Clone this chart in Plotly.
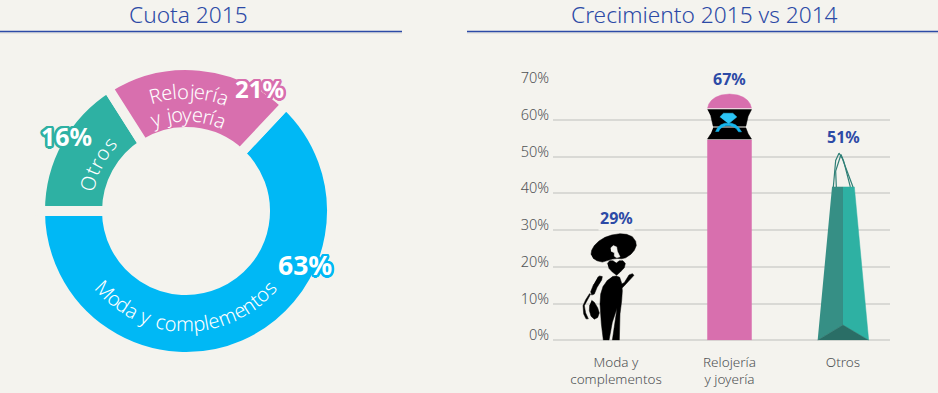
import math
import plotly.graph_objects as go

categories = ["Moda y complementos", "Otros", "Relojería y joyería"]
share_2015 = [63, 16, 21]
bar_categories = ["Moda y<br>complementos", "Relojería<br>y joyería", "Otros"]
growth_2015 = [29, 67, 51]
y_ticks = [0, 10, 20, 30, 40, 50, 60, 70]

W, H = 938, 393
BG = "#f4f3ee"
BLUE = "#2c4aa6"
SKY = "#00b8f5"
PINK = "#d86fae"
TEAL = "#2eb1a3"
FONT = "Noto Sans"
GREY = "#4f5254"

def px(x): return x / W
def py(y): return 1 - y / H

fig = go.Figure()

# ---------- donut ----------
CX, CY, R_VIS, R_IN, GAP = 186, 211, 141, 84, 10
R = R_VIS + GAP / 2
fig.add_trace(go.Pie(
    labels=categories, values=share_2015, sort=False, direction="clockwise",
    rotation=43.2, hole=(R_IN - GAP / 2) / R, textinfo="none", showlegend=False,
    marker=dict(colors=[SKY, TEAL, PINK], line=dict(color=BG, width=GAP)),
    domain=dict(x=[px(CX - R), px(CX + R)], y=[py(CY + R), py(CY - R)]),
))

# ---------- growth chart ----------
X0, STEP = 616, 113.5
AX_L, AX_R, Y0, Y70 = 553, 890, 340.3, 83
xr = [(AX_L - X0) / STEP, (AX_R - X0) / STEP]

fig.add_trace(go.Bar(
    x=[0, 1, 2], y=growth_2015, width=0.39,
    marker=dict(color="rgba(0,0,0,0)", line=dict(width=0)),
    showlegend=False, hovertext=bar_categories, hoverinfo="text+y",
))

def icon(index, value, polys, color, ox, oy, height, line=None):
    """Outline drawn in a local icon frame, scaled to the value on the axes."""
    xs, ys = [], []
    for poly in polys:
        for (a, b) in poly:
            xs.append(index + (a - ox) / 3 / STEP)
            ys.append(value * (oy - b) / height)
        xs.append(None); ys.append(None)
    if line:
        fig.add_trace(go.Scatter(x=xs, y=ys, mode="lines", hoverinfo="skip", showlegend=False,
                                 line=dict(color=color, width=line)))
    else:
        fig.add_trace(go.Scatter(x=xs, y=ys, mode="lines", fill="toself", fillcolor=color,
                                 hoverinfo="skip", showlegend=False, line=dict(color=color, width=0.5)))

# woman (frame: origin x=123, base y=345, height 323)
W_ARGS = dict(index=0, value=growth_2015[0], ox=123, oy=345, height=323)
icon(polys=[
    [(48,85),(50,72),(58,58),(72,44),(90,33),(110,26),(135,22),(155,24),(172,31),(182,45),(184,58),(178,72),(168,84),(152,95),(140,98),(128,97),(112,99),(98,104),(82,108),(66,104),(54,96)],
    [(97,112),(104,104),(114,104),(124,111),(133,104),(144,104),(151,112),(148,125),(136,138),(125,148),(112,138),(101,126)],
    [(112,152),(124,150),(134,154),(140,172),(142,195),(140,225),(135,265),(133,345),(112,345),(118,305),(126,248),(112,290),(102,345),(85,345),(79,295),(75,235),(77,205),(84,182),(98,162)],
    [(134,178),(148,170),(162,147),(172,143),(177,148),(172,154),(158,170),(146,182),(139,188)],
    [(68,154),(74,150),(82,152),(80,162),(66,185),(58,205),(50,208),(47,198),(56,175)],
    [(50,224),(58,230),(68,246),(73,262),(68,276),(58,281),(48,272),(43,255),(44,238)],
    [(47,205),(35,225),(28,240),(32,262),(40,280),(33,280),(26,265),(24,240),(32,222),(44,203)],
], color="#000000", **W_ARGS)
icon(polys=[[(107,65),(115,58),(125,62),(127,75),(135,92),(125,95),(118,90),(118,80),(108,75)]], color=BG, **W_ARGS)

# jewellery box (frame: origin x=120, base y=841, height 743)
R_ARGS = dict(index=1, value=growth_2015[1], ox=120, oy=841, height=743)
dome = [(54,141),(58,128),(66,117),(78,108),(95,101),(120,98),(145,101),(162,108),(174,117),(182,128),(186,141)]
icon(polys=[dome, [(54,841),(54,237),(186,237),(186,841)]], color=PINK, **R_ARGS)
icon(polys=[[(54,145),(186,145),(176,165),(169,195),(71,195),(64,165)],
            [(71,200),(169,200),(176,218),(186,234),(54,234),(64,218)]], color="#000000", **R_ARGS)
icon(polys=[[(78,212),(84,200),(94,191),(106,186),(126,186),(138,191),(148,200),(156,212),(147,212),(141,203),(132,197),(122,194),(108,194),(98,198),(91,204),(87,212)]],
     color="#14b6ee", **R_ARGS)
icon(polys=[[(91,167),(102,156),(130,156),(142,167),(117,188)]], color="#2cc4f5", **R_ARGS)

# shopping bag (frame: origin x=458, base y=841, height 566)
B_ARGS = dict(index=2, value=growth_2015[2], ox=458, oy=841, height=566)
icon(polys=[[(425,378),(458,378),(458,795),(382,841)]], color="#368f85", **B_ARGS)
icon(polys=[[(458,378),(492,378),(535,841),(458,795)]], color=TEAL, **B_ARGS)
icon(polys=[[(382,841),(458,795),(535,841)]], color="#2a6e66", **B_ARGS)
icon(polys=[[(429,378),(436,298),(446,276),(456,292),(488,378)],
            [(438,378),(436,330),(452,280),(460,300),(480,378)]],
     color="#2f7f76", line=1.2, **B_ARGS)

# ---------- text ----------
ann = []
def text(x, y, s, size, color, angle=0, weight=None, shadow=None, xanchor="center"):
    f = dict(family=FONT, size=size, color=color)
    if weight: f["weight"] = weight
    if shadow: f["shadow"] = shadow
    ann.append(dict(x=px(x), y=py(y), xref="paper", yref="paper", text=s, showarrow=False,
                    xanchor=xanchor, yanchor="middle", textangle=angle, font=f, borderpad=0))

def halo(c, r=2.5):
    parts = []
    for k in range(16):
        a = k * math.pi / 8
        parts.append(f"{r*math.cos(a):.1f}px {r*math.sin(a):.1f}px 0 {c}")
    return ", ".join(parts)

NARROW = {"i": .27, "l": .27, "í": .29, "j": .28, "r": .40, "t": .36, " ": .27, "f": .33}
WIDE = {"m": .92, "M": .88, "R": .62, "O": .76}
def glyph_w(c): return NARROW.get(c, WIDE.get(c, .56))

def arc(s, radius, a0, a1, size, bottom=False):
    ws = [glyph_w(c) for c in s]
    tot = sum(ws)
    pos = 0.0
    for c, w in zip(s, ws):
        t = (pos + w / 2) / tot
        pos += w
        if c == " ":
            continue
        a = a0 + (a1 - a0) * t
        rad = math.radians(a)
        if bottom:
            x, y, rot = CX + radius * math.sin(rad), CY + radius * math.cos(rad), -a
        else:
            x, y, rot = CX + radius * math.sin(rad), CY - radius * math.cos(rad), a
        text(x, y, c, size, "#ffffff", angle=rot, weight=300)

arc("Moda y complementos", 113, -50, 50, 20, bottom=True)
arc("Relojería", 120, -18, 21, 20)
arc("y joyería", 97, -21, 24, 20)
arc("Otros", 102, -79, -45, 20)

text(304.5, 265, f"{share_2015[0]}%", 26.5, "#ffffff", weight=700, shadow=halo(SKY))
text(259, 89, f"{share_2015[2]}%", 24, "#ffffff", weight=700, shadow=halo(PINK))
text(66, 136, f"{share_2015[1]}%", 25, "#ffffff", weight=700, shadow=halo(TEAL))

text(188.5, 15, "Cuota 2015", 22.7, BLUE, weight=300)
text(704, 15, "Crecimiento 2015 vs 2014", 22.7, BLUE, weight=300)

for i, v in enumerate(growth_2015):
    ann.append(dict(x=i, y=v, xref="x", yref="y", yshift=15.5, text=f"{v}%", showarrow=False,
                    xanchor="center", yanchor="middle", bgcolor=BG, borderpad=1,
                    font=dict(family=FONT, size=16, color=BLUE, weight=700)))

rule = dict(type="line", xref="paper", yref="paper", y0=py(31.5), y1=py(31.5), line=dict(color=BLUE, width=1.3))
rule_sh = dict(type="line", xref="paper", yref="paper", y0=py(33), y1=py(33), line=dict(color="#d8d8d6", width=1))
shapes = []
for a, b in [(0, 402), (467, 938)]:
    shapes.append(dict(rule_sh, x0=px(a), x1=px(b)))
    shapes.append(dict(rule, x0=px(a), x1=px(b)))

fig.update_layout(
    width=W, height=H, margin=dict(l=0, r=0, t=0, b=0, pad=0, autoexpand=False), autosize=False,
    paper_bgcolor=BG, plot_bgcolor=BG, showlegend=False, bargap=0.6,
    annotations=ann, shapes=shapes,
    xaxis=dict(domain=[px(AX_L), px(AX_R)], range=xr, tickmode="array", tickvals=[0, 1, 2], automargin=False,
               ticktext=bar_categories, showgrid=False, zeroline=False, showline=False,
               ticks="", tickfont=dict(family=FONT, size=13.5, color=GREY, weight=300), ticklabelstandoff=12),
    yaxis=dict(domain=[py(Y0), py(Y70)], range=[0, 70], tickmode="array", tickvals=y_ticks, automargin=False,
               ticktext=[f"{t}%" for t in y_ticks], showgrid=True, gridcolor="#d9d9d5", gridwidth=1.5,
               zeroline=True, zerolinecolor="#d9d9d5", zerolinewidth=1.5, showline=False,
               ticks="", tickfont=dict(family=FONT, size=14.5, color=GREY, weight=300),
               ticklabelstandoff=3, ticklabelshift=-5),
)

fig.write_html("out.html", config=dict(displayModeBar=False),
               post_script="document.body.style.margin='0';document.body.style.background='%s';" % BG)
